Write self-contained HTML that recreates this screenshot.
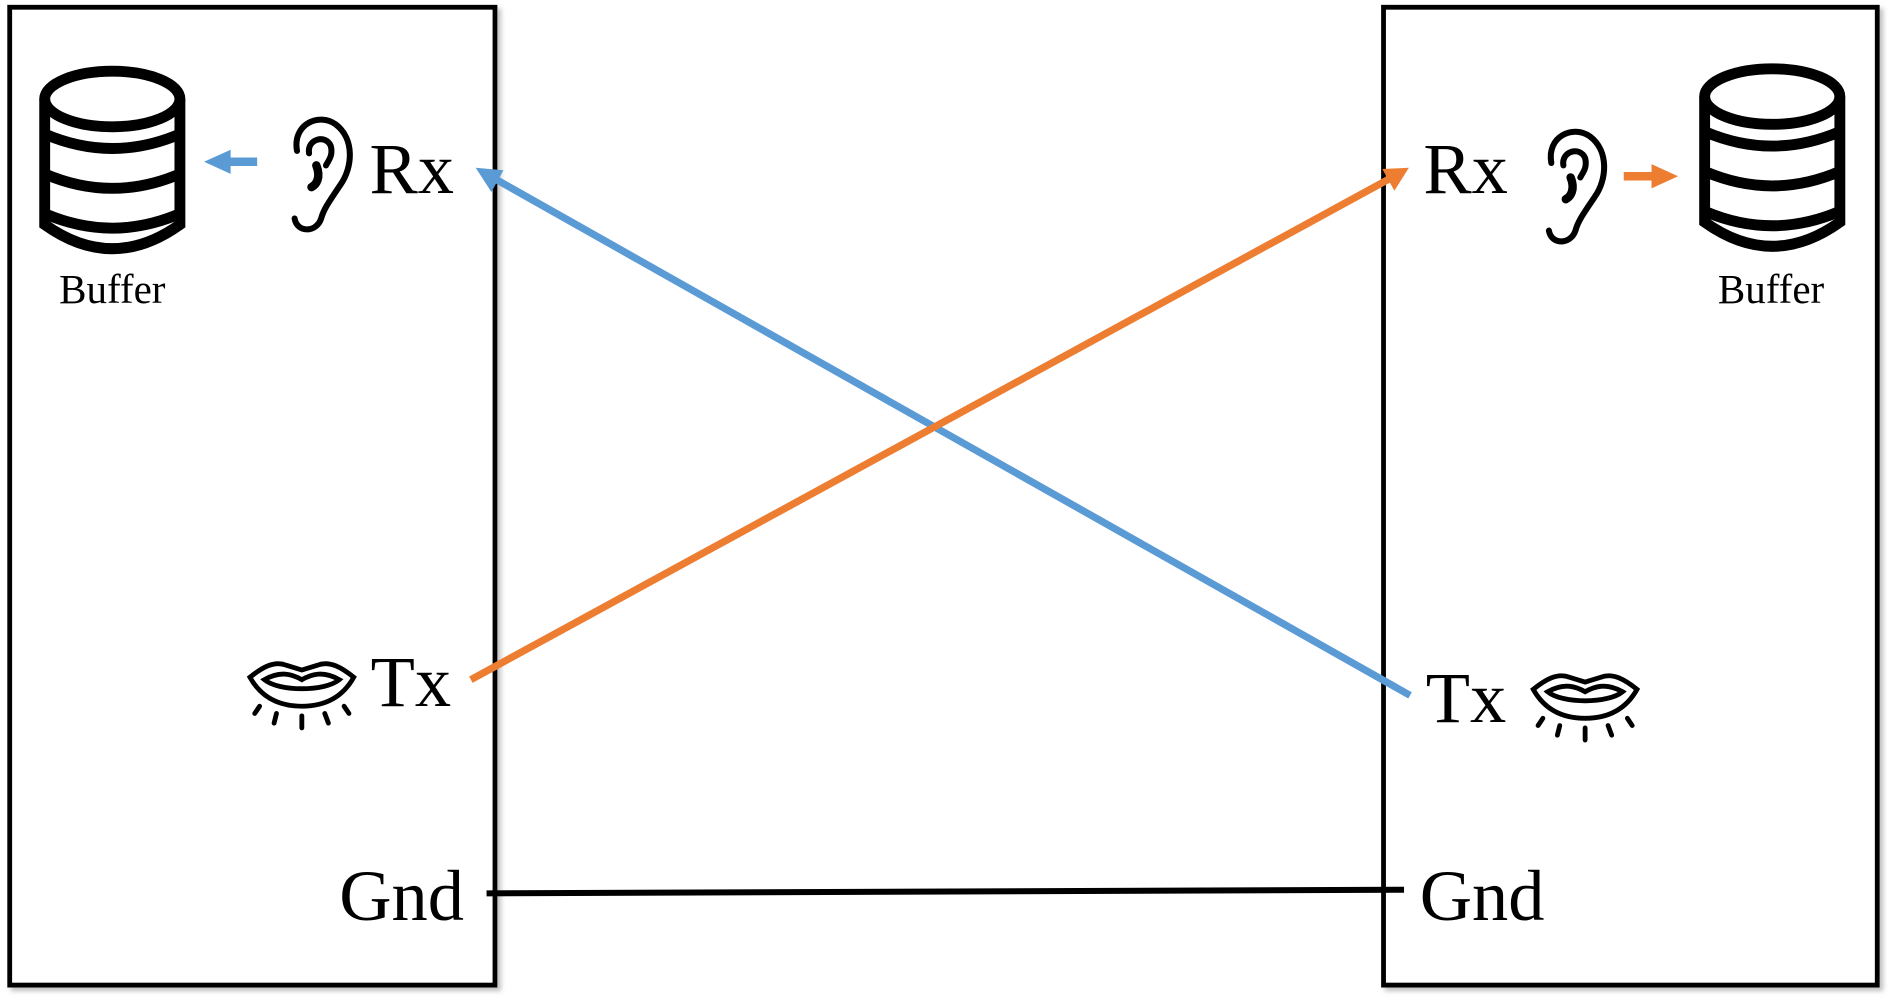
<!DOCTYPE html>
<html><head><meta charset="utf-8"><style>
html,body{margin:0;padding:0;background:#fff;}
svg{display:block;}
text{font-family:"Liberation Serif",serif;fill:#000;}
</style></head><body>
<svg width="1893" height="1002" viewBox="0 0 1568 830">
<defs>
<filter id="sh" x="-5%" y="-5%" width="110%" height="110%"><feDropShadow dx="3" dy="3" stdDeviation="2" flood-color="#999" flood-opacity="0.6"/></filter>
<g id="db" fill="none" stroke="#000" stroke-width="9">
<ellipse cx="0" cy="82" rx="56" ry="23"/>
<path d="M-56 82 V186 Q0 226 56 186 V82"/>
<path d="M-56 111 Q0 135 56 111"/>
<path d="M-56 144 Q0 168 56 144"/>
<path d="M-56 177 Q0 201 56 177"/>
</g>
<g id="ear" fill="none" stroke="#000" stroke-width="5" stroke-linecap="round">
<path d="M4 28 C0 6 22 -4 36 6 C52 18 50 42 40 56 C32 68 26 76 24 84 C20 96 4 96 2 84"/>
<path d="M14 30 C12 18 28 14 32 24 C34 32 30 36 28 40"/>
<path d="M20 40 C24 50 20 56 16 58" stroke-width="7"/>
</g>
<g id="lips" fill="none" stroke="#000" stroke-width="4" stroke-linecap="round">
<path d="M0 16 C10 8 20 2 30 6 L43 10 L56 6 C66 2 76 8 86 16 C76 34 60 40 43 40 C26 40 10 34 0 16 Z"/>
<path d="M12 18 C26 10 36 14 43 18 C50 14 60 10 74 18 C62 28 24 28 12 18 Z"/>
<path d="M8 40 L4 46 M22 46 L20 54 M43 48 V58 M62 46 L65 54 M78 40 L82 46"/>
</g>
</defs>
<rect x="8" y="6" width="402" height="810" fill="#fff" stroke="#000" stroke-width="4" filter="url(#sh)"/>
<rect x="1146" y="6" width="409" height="810" fill="#fff" stroke="#000" stroke-width="4" filter="url(#sh)"/>

<use href="#db" x="93" y="0"/>
<text x="93" y="251" font-size="34" text-anchor="middle">Buffer</text>
<path d="M213 134 H188" stroke="#5b9bd5" stroke-width="7"/>
<path d="M169 134 L191 124 L191 144 Z" fill="#5b9bd5"/>
<use href="#ear" x="242" y="97"/>
<text x="306" y="160" font-size="60">Rx</text>
<use href="#lips" x="207" y="545"/>
<text x="307" y="585" font-size="60">Tx</text>
<text x="281" y="762" font-size="60">Gnd</text>

<use href="#db" x="1468" y="-2"/>
<text x="1467" y="251" font-size="34" text-anchor="middle">Buffer</text>
<path d="M1345 146 H1370" stroke="#ed7d31" stroke-width="7"/>
<path d="M1390 146 L1368 136 L1368 156 Z" fill="#ed7d31"/>
<use href="#ear" x="1281" y="107"/>
<text x="1179" y="160" font-size="60">Rx</text>
<text x="1181" y="598" font-size="60">Tx</text>
<use href="#lips" x="1270" y="555"/>
<text x="1176" y="762" font-size="60">Gnd</text>

<path d="M1168 576 L408 147" stroke="#5b9bd5" stroke-width="6"/>
<path d="M394 139 L417 141 L407 159 Z" fill="#5b9bd5"/>
<path d="M390 563 L1153 147" stroke="#ed7d31" stroke-width="6"/>
<path d="M1167 139 L1155 158 L1145 140 Z" fill="#ed7d31"/>
<path d="M403 740 L1163 737" stroke="#000" stroke-width="5"/>
</svg>
</body></html>
